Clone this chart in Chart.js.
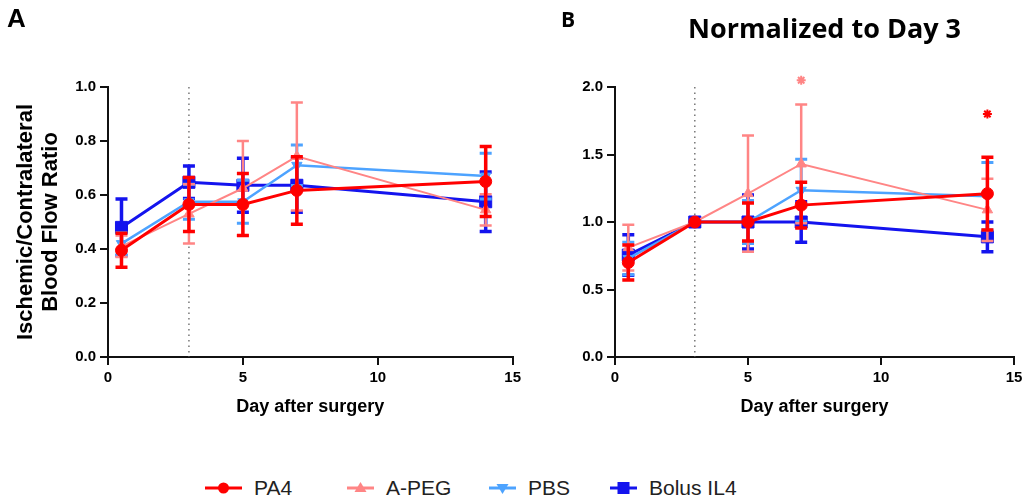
<!DOCTYPE html>
<html>
<head>
<meta charset="utf-8">
<script src="https://cdn.jsdelivr.net/npm/chart.js@4.4.1/dist/chart.umd.min.js"></script>
<style>
  html, body { margin: 0; padding: 0; background: #fff; }
  body { width: 1029px; height: 503px; position: relative; overflow: hidden; font-family: "Liberation Sans", Arial, sans-serif; }
  canvas { position: absolute; top: 0; }
  #cA { left: 0; }
  #cB { left: 520px; }
  .lbl { position: absolute; font-weight: bold; color: #000; white-space: nowrap; }
  #legend { position: absolute; left: 0; top: 474px; width: 1029px; height: 28px; }
  .item { position: absolute; top: 0; height: 28px; display: flex; align-items: center; }
  .item span { font-family: "Liberation Sans", Arial, sans-serif; font-size: 21px; color: #222; margin-left: 12px; }
</style>
</head>
<body>
<canvas id="cA" width="525" height="420"></canvas>
<canvas id="cB" width="509" height="420"></canvas>
<div class="lbl" style="left:7px; top:3px; font-size:26px; font-family:'Liberation Sans',Arial,sans-serif;">A</div>
<div class="lbl" style="left:561px; top:5px; font-size:21px; font-family:'Open Sans',sans-serif;">B</div>
<div class="lbl" id="titleB" style="left:688px; top:9px; font-size:27px; font-family:'Open Sans',sans-serif;">Normalized to Day 3</div>
<div id="legend"></div>
<script>
// ---------------- DATA ----------------
const days = [0.5, 3, 5, 7, 14];
const seriesNames = ['PA4', 'A-PEG', 'PBS', 'Bolus IL4'];

// Panel A: Ischemic/Contralateral blood flow ratio (mean, error)
const pa4A      = [0.395, 0.565, 0.565, 0.617, 0.650];
const pa4AErr   = [0.063, 0.100, 0.115, 0.125, 0.130];
const apegA     = [0.410, 0.530, 0.625, 0.743, 0.545];
const apegAErr  = [0.040, 0.110, 0.175, 0.200, 0.058];
const pbsA      = [0.420, 0.575, 0.575, 0.710, 0.670];
const pbsAErr   = [0.040, 0.065, 0.080, 0.075, 0.085];
const il4A      = [0.480, 0.647, 0.636, 0.636, 0.575];
const il4AErr   = [0.105, 0.060, 0.100, 0.100, 0.110];

// Panel B: normalized to day 3 (mean, error)
const pa4B      = [0.700, 1.000, 1.000, 1.125, 1.210];
const pa4BErr   = [0.130, 0.000, 0.140, 0.170, 0.270];
const apegB     = [0.810, 1.000, 1.210, 1.430, 1.090];
const apegBErr  = [0.170, 0.000, 0.430, 0.440, 0.230];
const pbsB      = [0.730, 1.000, 1.000, 1.235, 1.190];
const pbsBErr   = [0.120, 0.000, 0.160, 0.230, 0.250];
const il4B      = [0.755, 1.000, 1.000, 1.000, 0.890];
const il4BErr   = [0.150, 0.030, 0.200, 0.150, 0.110];

// Significance markers (panel B)
const sigApegB = [{ x: 7, y: 2.05 }];
const sigPa4B  = [{ x: 14, y: 1.80 }];

// Axis ticks
const xTicks = [0, 5, 10, 15];
const yTicksA = [0.0, 0.2, 0.4, 0.6, 0.8, 1.0];
const yTicksB = [0.0, 0.5, 1.0, 1.5, 2.0];
const referenceDay = 3;

// ---------------- STYLE ----------------
const colors = { pa4: '#ff0000', apeg: '#ff8585', pbs: '#4da3ff', il4: '#1414ee' };

function pts(vals) { return days.map((d, i) => ({ x: d, y: vals[i] })); }

function series(label, vals, errs, color, style, radius, lw, rotation) {
  return {
    label, data: pts(vals), errors: errs,
    borderColor: color, backgroundColor: color,
    borderWidth: lw, errWidth: lw + 0.5,
    pointStyle: style, pointRadius: radius, pointRotation: rotation || 0,
    pointBorderWidth: 1, pointHoverRadius: radius,
    tension: 0, fill: false
  };
}

const errorBarPlugin = {
  id: 'errorBars',
  afterDatasetDraw(chart, args) {
    const ds = chart.data.datasets[args.index];
    if (!ds.errors) return;
    const ys = chart.scales.y, xs = chart.scales.x, ctx = chart.ctx;
    ctx.save();
    ctx.strokeStyle = ds.borderColor;
    ctx.lineWidth = ds.errWidth;
    ctx.lineCap = 'butt';
    ds.data.forEach((p, i) => {
      const e = ds.errors[i];
      if (!e) return;
      const x = xs.getPixelForValue(p.x);
      const t = ys.getPixelForValue(p.y + e), b = ys.getPixelForValue(p.y - e);
      ctx.beginPath();
      ctx.moveTo(x, t); ctx.lineTo(x, b);
      ctx.moveTo(x - 6, t); ctx.lineTo(x + 6, t);
      ctx.moveTo(x - 6, b); ctx.lineTo(x + 6, b);
      ctx.stroke();
    });
    ctx.restore();
  }
};

// significance stars, placed through the chart's own scales (may sit above the axis top)
const sigPlugin = {
  id: 'sigMarks',
  afterDatasetsDraw(chart, args, opts) {
    const marks = opts.marks || [];
    const xs = chart.scales.x, ys = chart.scales.y, ctx = chart.ctx;
    marks.forEach(m => {
      m.points.forEach(p => {
        ctx.save();
        ctx.strokeStyle = m.color;
        ctx.fillStyle = m.color;
        ctx.lineWidth = 2;
        Chart.helpers.drawPoint(ctx, { pointStyle: 'star', radius: 4.5, borderWidth: 2, rotation: 0 },
          xs.getPixelForValue(p.x), ys.getPixelForValue(p.y));
        ctx.restore();
      });
    });
  }
};

const refLinePlugin = {
  id: 'refLine',
  beforeDatasetsDraw(chart) {
    const xs = chart.scales.x, ys = chart.scales.y, ctx = chart.ctx;
    const x = xs.getPixelForValue(referenceDay);
    ctx.save();
    ctx.strokeStyle = '#777';
    ctx.lineWidth = 1.5;
    ctx.setLineDash([1.5, 4]);
    ctx.beginPath();
    ctx.moveTo(x, ys.getPixelForValue(ys.max));
    ctx.lineTo(x, ys.getPixelForValue(ys.min));
    ctx.stroke();
    ctx.restore();
  }
};

function makeChart(id, datasets, yMax, yTicks, yTitle, yWidth, padRight, marks) {
  return new Chart(document.getElementById(id), {
    type: 'line',
    data: { datasets },
    plugins: [refLinePlugin, errorBarPlugin, sigPlugin],
    options: {
      responsive: false, animation: false, devicePixelRatio: 1,
      layout: { padding: { top: 87, right: padRight, bottom: 0, left: 0 } },
      plugins: { legend: { display: false }, tooltip: { enabled: false }, title: { display: false }, sigMarks: { marks: marks || [] } },
      scales: {
        x: {
          type: 'linear', min: 0, max: 15,
          afterBuildTicks(s) { s.ticks = xTicks.map(v => ({ value: v })); },
          afterFit(s) { s.height = 63; },
          border: { color: '#111', width: 2 },
          grid: { drawOnChartArea: false, drawTicks: true, tickLength: 8, color: '#111', lineWidth: 2 },
          ticks: { color: '#000', font: { family: 'Liberation Sans, Arial', size: 15, weight: 'bold' }, padding: 4, maxRotation: 0 },
          title: { display: true, text: 'Day after surgery', color: '#000', font: { family: 'Liberation Sans, Arial', size: 18, weight: 'bold' }, padding: { top: 0, bottom: 2 } }
        },
        y: {
          type: 'linear', min: 0, max: yMax,
          afterBuildTicks(s) { s.ticks = yTicks.map(v => ({ value: v })); },
          afterFit(s) { s.width = yWidth; },
          border: { color: '#111', width: 2 },
          grid: { drawOnChartArea: false, drawTicks: true, tickLength: 8, color: '#111', lineWidth: 2 },
          ticks: { color: '#000', font: { family: 'Liberation Sans, Arial', size: 15, weight: 'bold' }, padding: 4, callback: v => Number(v).toFixed(1) },
          title: yTitle ? { display: true, text: yTitle, color: '#000', font: { family: 'Liberation Sans, Arial', size: 22, weight: 'bold', lineHeight: 25 / 22 }, padding: { top: 13, bottom: 0 } } : { display: false }
        }
      }
    }
  });
}

const dsA = [
  series('PA4', pa4A, pa4AErr, colors.pa4, 'circle', 6, 3),
  series('A-PEG', apegA, apegAErr, colors.apeg, 'triangle', 6, 2),
  series('PBS', pbsA, pbsAErr, colors.pbs, 'triangle', 6, 2.5, 180),
  series('Bolus IL4', il4A, il4AErr, colors.il4, 'rect', 8.5, 3)
];
const dsB = [
  series('PA4', pa4B, pa4BErr, colors.pa4, 'circle', 6, 3),
  series('A-PEG', apegB, apegBErr, colors.apeg, 'triangle', 6, 2),
  series('PBS', pbsB, pbsBErr, colors.pbs, 'triangle', 6, 2.5, 180),
  series('Bolus IL4', il4B, il4BErr, colors.il4, 'rect', 8.5, 3)
];

makeChart('cA', dsA, 1.0, yTicksA, ['Ischemic/Contralateral', 'Blood Flow Ratio'], 108, 12);
makeChart('cB', dsB, 2.0, yTicksB, null, 95, 15, [
  { color: colors.apeg, points: sigApegB },
  { color: colors.pa4, points: sigPa4B }
]);

// ---------------- LEGEND ----------------
const legendItems = [
  { name: seriesNames[0], color: colors.pa4, shape: 'circle', left: 205, len: 37 },
  { name: seriesNames[1], color: colors.apeg, shape: 'tri', left: 347, len: 27 },
  { name: seriesNames[2], color: colors.pbs, shape: 'tridown', left: 489, len: 27 },
  { name: seriesNames[3], color: colors.il4, shape: 'rect', left: 610, len: 27 }
];
const legend = document.getElementById('legend');
legendItems.forEach(it => {
  const w = it.len, c = w / 2, m = 14;
  let mk = '';
  if (it.shape === 'circle') mk = `<circle cx="${c}" cy="${m}" r="5.5" fill="${it.color}"/>`;
  if (it.shape === 'tri') mk = `<polygon points="${c},${m - 6} ${c + 6},${m + 4} ${c - 6},${m + 4}" fill="${it.color}"/>`;
  if (it.shape === 'tridown') mk = `<polygon points="${c},${m + 6} ${c + 6},${m - 4} ${c - 6},${m - 4}" fill="${it.color}"/>`;
  if (it.shape === 'rect') mk = `<rect x="${c - 6}" y="${m - 6}" width="12" height="12" fill="${it.color}"/>`;
  const div = document.createElement('div');
  div.className = 'item';
  div.style.left = it.left + 'px';
  div.innerHTML = `<svg width="${w}" height="28"><line x1="0" y1="${m}" x2="${w}" y2="${m}" stroke="${it.color}" stroke-width="3"/>${mk}</svg><span>${it.name}</span>`;
  legend.appendChild(div);
});
</script>
</body>
</html>
